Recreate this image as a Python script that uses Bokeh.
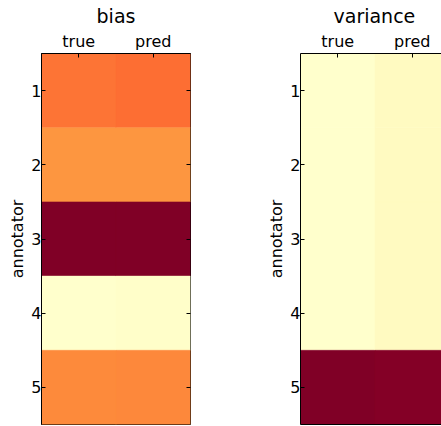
import numpy as np
from bokeh.plotting import figure
from bokeh.layouts import row
from bokeh.models import ColumnDataSource, LinearColorMapper, FixedTicker, LinearAxis, Range1d
from bokeh.transform import transform
from bokeh.embed import file_html
from bokeh.resources import INLINE

# Heatmap data: one value per annotator for the true and predicted columns
columns = ["true", "pred"]
annotators = [1, 2, 3, 4, 5]
bias_true = [0.55, 0.47, 1.00, 0.00, 0.505]
bias_pred = [0.56, 0.47, 1.00, 0.01, 0.51]
var_true = [0.00, 0.00, 0.00, 0.00, 1.00]
var_pred = [0.035, 0.035, 0.035, 0.035, 0.99]

# YlOrRd anchors (light to dark) spread into a smooth 256-step ramp
anchors = ["#ffffcc", "#ffeda0", "#fed976", "#feb24c", "#fd8d3c",
           "#fc4e2a", "#e31a1c", "#bd0026", "#800026"]
rgb = np.array([[int(h[i:i + 2], 16) for i in (1, 3, 5)] for h in anchors], float)
pos = np.linspace(0, 1, len(anchors))
t = np.linspace(0, 1, 256)
ramp = np.stack([np.interp(t, pos, rgb[:, k]) for k in range(3)], axis=1)
palette = ["#%02x%02x%02x" % tuple(int(round(c)) for c in c3) for c3 in ramp]

FONT = "DejaVu Sans"


def style_axis(ax, size="16px"):
    ax.major_tick_in = 4
    ax.major_tick_out = 0
    ax.minor_tick_in = 0
    ax.minor_tick_out = 0
    ax.major_tick_line_color = "black"
    ax.axis_line_color = "black"
    ax.major_label_text_font = FONT
    ax.major_label_text_font_size = size
    ax.major_label_text_color = "black"
    ax.major_label_standoff = 1


def panel(title, true_vals, pred_vals, frame_w, x_end, border_right, full):
    xs, ys, vals = [], [], []
    for j, name in enumerate(columns):
        src = true_vals if name == "true" else pred_vals
        for a, v in zip(annotators, src):
            xs.append(j)
            ys.append(a)
            vals.append(v)
    source = ColumnDataSource(dict(x=xs, y=ys, v=vals))
    mapper = LinearColorMapper(palette=palette, low=min(vals), high=max(vals))

    p = figure(frame_width=frame_w, frame_height=371,
               x_range=Range1d(-0.5, x_end), y_range=Range1d(5.5, 0.5),
               x_axis_location="above", output_backend="svg",
               toolbar_location=None, title=title,
               min_border_left=41, min_border_right=border_right,
               min_border_top=53, min_border_bottom=2)
    p.rect(x="x", y="y", width=1, height=1, source=source,
           fill_color=transform("v", mapper),
           line_color=transform("v", mapper), line_width=0.5)

    p.grid.visible = False
    p.background_fill_color = "white"
    p.border_fill_color = "white"

    p.xaxis.ticker = FixedTicker(ticks=[0, 1])
    p.xaxis.major_label_overrides = {0: "true", 1: "pred"}
    p.yaxis.ticker = FixedTicker(ticks=annotators)
    for ax in p.xaxis + p.yaxis:
        style_axis(ax)
    p.xaxis.major_label_standoff = 3
    p.yaxis.major_label_standoff = 0
    p.yaxis.axis_label = "annotator"
    p.yaxis.axis_label_text_font = FONT
    p.yaxis.axis_label_text_font_size = "16px"
    p.yaxis.axis_label_text_font_style = "normal"
    p.yaxis.axis_label_text_color = "black"
    p.yaxis.axis_label_standoff = 1

    p.title.text_font = FONT
    p.title.text_font_size = "19px"
    p.title.text_font_style = "normal"
    p.title.text_color = "black"
    p.title.standoff = 3

    if full:
        p.outline_line_color = "black"
        p.outline_line_width = 1
        # tick marks only on the right edge, no labels
        right = LinearAxis(ticker=FixedTicker(ticks=annotators))
        style_axis(right)
        right.major_label_overrides = {a: "" for a in annotators}
        right.axis_line_color = None
        p.add_layout(right, "right")
        p.title.align = "center"
    else:
        p.outline_line_color = None
        # plain line along the bottom edge
        bottom = LinearAxis(ticker=FixedTicker(ticks=[]))
        style_axis(bottom)
        bottom.major_label_standoff = 0
        p.add_layout(bottom, "below")
        p.title.align = "left"
        p.title.offset = 33
    return p


p1 = panel("bias", bias_true, bias_pred, 149, 1.5, 69, True)
p2 = panel("variance", var_true, var_pred, 141, -0.5 + 141 / 74.5, 0, False)

layout = row(p1, p2)
open("out.html", "w").write(file_html(layout, INLINE))
